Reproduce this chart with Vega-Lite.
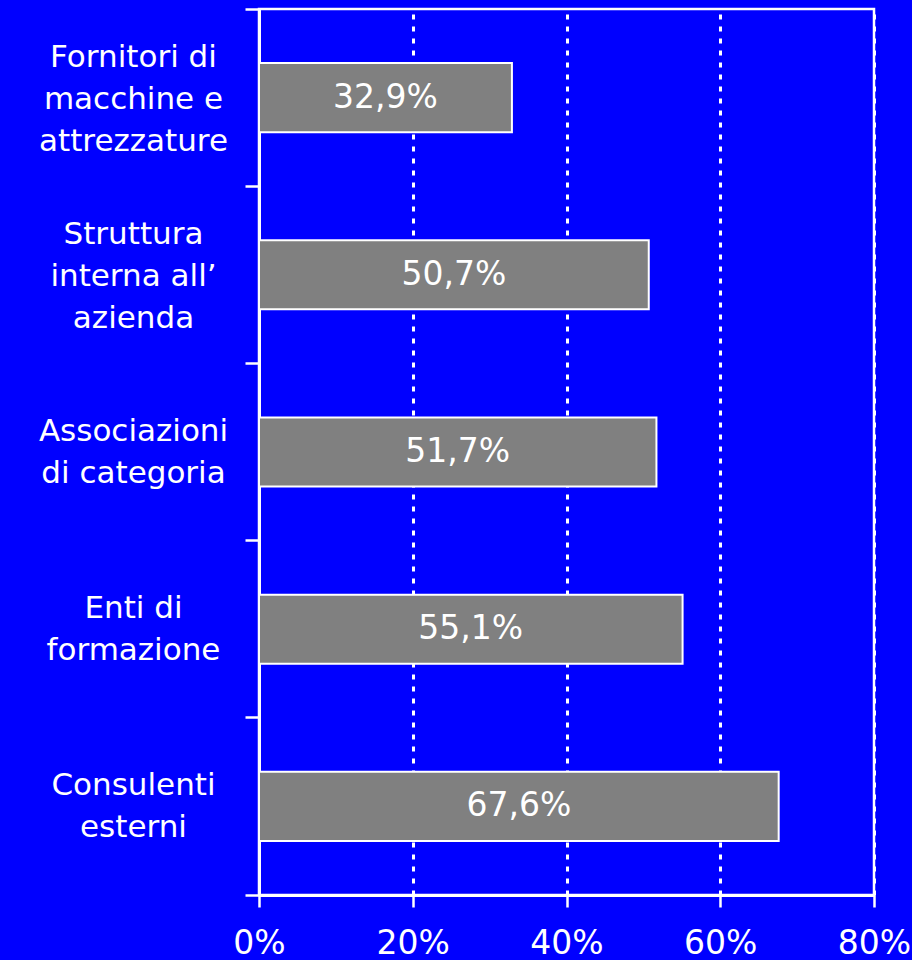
{
  "$schema": "https://vega.github.io/schema/vega-lite/v6.json",
  "autosize": "none",
  "width": 615,
  "height": 886,
  "padding": {"left": 259, "top": 9, "right": 38, "bottom": 65},
  "background": "#0000FF",
  "data": {
    "values": [
      {"fonte": "Fornitori di|macchine e|attrezzature", "quota": 0.329},
      {"fonte": "Struttura|interna all’|azienda", "quota": 0.507},
      {"fonte": "Associazioni|di categoria", "quota": 0.517},
      {"fonte": "Enti di|formazione", "quota": 0.551},
      {"fonte": "Consulenti|esterni", "quota": 0.676}
    ]
  },
  "transform": [{"calculate": "datum.quota / 2", "as": "mid"}],
  "encoding": {
    "y": {
      "field": "fonte",
      "type": "nominal",
      "sort": null,
      "title": null,
      "scale": {"paddingInner": 0, "paddingOuter": 0},
      "axis": {
        "labelExpr": "split(datum.label, '|')",
        "labelColor": "white",
        "labelFont": "DejaVu Sans",
        "labelFontSize": 31,
        "labelLineHeight": 42,
        "labelAlign": "center",
        "labelBaseline": "middle",
        "labelOffset": {"condition": {"test": "length(split(datum.value, '|')) > 2", "value": -40}, "value": -20},
        "labelPadding": 112,
        "labelLimit": 300,
        "domainColor": "white",
        "domainWidth": 3,
        "tickColor": "white",
        "tickWidth": 2.5,
        "tickSize": 14,
        "bandPosition": 1,
        "tickExtra": true,
        "grid": false
      }
    }
  },
  "layer": [
    {
      "mark": {"type": "bar", "color": "#808080", "stroke": "white", "strokeWidth": 2, "height": {"band": 0.39}},
      "encoding": {
        "x": {
          "field": "quota",
          "type": "quantitative",
          "title": null,
          "scale": {"domain": [0, 0.8], "nice": false},
          "axis": {
            "values": [0, 0.2, 0.4, 0.6, 0.8],
            "format": ".0%",
            "labelColor": "white",
            "labelFont": "DejaVu Sans",
            "labelFontSize": 33,
            "labelPadding": 20,
            "labelFlush": false,
            "domainColor": "white",
            "domainWidth": 3,
            "tickColor": "white",
            "tickWidth": 2.5,
            "tickSize": 12,
            "grid": true,
            "gridColor": "white",
            "gridWidth": 3,
            "gridDash": [5, 7],
            "gridOpacity": 1
          }
        }
      }
    },
    {
      "mark": {"type": "text", "color": "white", "font": "DejaVu Sans", "fontSize": 33, "align": "center", "baseline": "middle"},
      "encoding": {
        "x": {"field": "mid", "type": "quantitative"},
        "text": {"field": "quota", "type": "quantitative", "format": ".1%"}
      }
    }
  ],
  "config": {
    "locale": {"number": {"decimal": ",", "thousands": ".", "grouping": [3], "currency": ["€", ""]}},
    "view": {"stroke": "white", "strokeWidth": 2.5}
  }
}
